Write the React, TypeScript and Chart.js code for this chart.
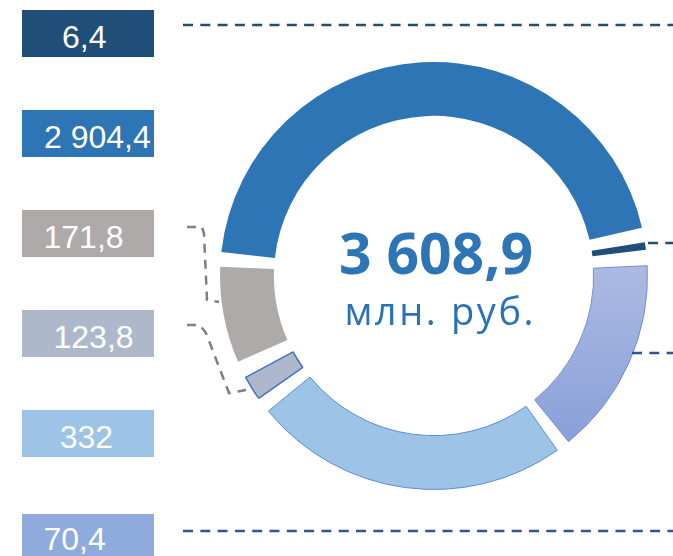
import React, { useEffect, useRef } from "react";
import { Chart, registerables } from "chart.js";

Chart.register(...registerables);

// Value labels shown in the boxes (top to bottom)
const valueLabels = ["6,4", "2 904,4", "171,8", "123,8", "332", "70,4"];
// Sweep of each ring slice in degrees, as drawn in the picture (same order as labels)
const sliceSweepDeg = [2, 160.6, 26.1, 6.6, 86, 53.6];
// Order of the slices around the ring, clockwise from the start angle
const ringOrder = [1, 0, 5, 4, 3, 2];
// Empty gaps (degrees) that follow each slice in ring order
const gapSweepDeg = [4, 4.3, 3.8, 4.3, 4.7, 4];
const startAngleDeg = 276.4;
const totalText = "3 608,9";
const unitText = "млн. руб.";

// styles
const sliceColors = ["#1F4E79", "#2E75B6", "#AEAAAA", "#ADB9CA", "#9DC3E6", "GRAD"];
const sliceBorders = ["#1F4E79", "#2E75B6", "#AEAAAA", "#4472C4", "#5B8ED5", "#6F8FD6"];
const sliceBorderW = [0, 0, 0, 1.5, 1, 1];
const boxColors = ["#1F4E79", "#2E75B6", "#AEAAAA", "#ADB9CA", "#9DC3E6", "#8FAADC"];
const boxTops = [10, 110, 210, 310, 410, 514];
const textTops = [21, 121, 221, 321, 421, 523];
const textLefts = [62, 44, 43.5, 53.5, 59.7, 43.4];

export default function App() {
  const ref = useRef<HTMLCanvasElement>(null);

  useEffect(() => {
    const canvas = ref.current!;
    const g = canvas.getContext("2d")!;
    const grad = g.createLinearGradient(0, 262, 0, 445);
    grad.addColorStop(0, "#ADBBE3");
    grad.addColorStop(1, "#889FD8");

    const data: number[] = [];
    const bg: any[] = [];
    const bc: string[] = [];
    const bw: number[] = [];
    const labels: string[] = [];
    ringOrder.forEach((idx, k) => {
      data.push(sliceSweepDeg[idx]);
      bg.push(sliceColors[idx] === "GRAD" ? grad : sliceColors[idx]);
      bc.push(sliceBorders[idx]);
      bw.push(sliceBorderW[idx]);
      labels.push(valueLabels[idx]);
      data.push(gapSweepDeg[k]);
      bg.push("rgba(0,0,0,0)");
      bc.push("rgba(0,0,0,0)");
      bw.push(0);
      labels.push("");
    });

    const dashed = (c: CanvasRenderingContext2D, color: string, pts: number[][]) => {
      c.strokeStyle = color;
      c.beginPath();
      c.moveTo(pts[0][0], pts[0][1]);
      for (let i = 1; i < pts.length; i++) c.lineTo(pts[i][0], pts[i][1]);
      c.stroke();
    };

    const leaderPlugin = {
      id: "leaders",
      afterDraw(chart: any) {
        const c: CanvasRenderingContext2D = chart.ctx;
        c.save();
        c.lineWidth = 2.5;
        c.setLineDash([10, 7.3]);
        c.lineCap = "butt";
        dashed(c, "#1F4E79", [[183, 25], [673, 25]]);
        dashed(c, "#2F5597", [[183, 531], [673, 531]]);
        dashed(c, "#1F4E79", [[648, 243], [673, 243]]);
        dashed(c, "#2F5597", [[632, 353], [673, 353]]);
        c.setLineDash([9, 7]);
        dashed(c, "#7F7F7F", [[187, 227], [202, 227], [204, 234], [207, 300], [219, 302]]);
        dashed(c, "#7F7F7F", [[187, 325], [200, 325], [206, 333], [229, 393], [246, 390]]);
        c.restore();
      },
    };

    const chart = new Chart(canvas, {
      type: "doughnut",
      data: {
        labels,
        datasets: [
          {
            data,
            backgroundColor: bg,
            borderColor: bc,
            borderWidth: bw,
            hoverBorderWidth: bw,
            hoverBackgroundColor: bg,
            hoverBorderColor: bc,
          },
        ],
      },
      options: {
        responsive: false,
        animation: false,
        events: [],
        rotation: startAngleDeg,
        cutout: "74.8%",
        layout: { padding: { left: 219.25, top: 61.25, right: 24.75, bottom: 65.75 } },
        plugins: { legend: { display: false }, tooltip: { enabled: false } },
      } as any,
      plugins: [leaderPlugin],
    });
    return () => chart.destroy();
  }, []);

  return (
    <div
      style={{
        position: "absolute",
        left: 0,
        top: 0,
        width: 673,
        height: 556,
        overflow: "hidden",
        background: "#fff",
      }}
    >
      {valueLabels.map((t, i) => (
        <div
          key={"b" + i}
          style={{
            position: "absolute",
            left: 22,
            top: boxTops[i],
            width: 132,
            height: 47,
            background: boxColors[i],
          }}
        />
      ))}
      {valueLabels.map((t, i) => (
        <div
          key={"t" + i}
          style={{
            position: "absolute",
            left: textLefts[i],
            top: textTops[i],
            fontFamily: "'Liberation Sans', Arial, sans-serif",
            fontSize: 32,
            lineHeight: "32px",
            color: "#fff",
            whiteSpace: "nowrap",
          }}
        >
          {t}
        </div>
      ))}
      <canvas
        ref={ref}
        width={673}
        height={556}
        style={{ position: "absolute", left: 0, top: 0, width: 673, height: 556 }}
      />
      <div
        style={{
          position: "absolute",
          left: 436,
          top: 224,
          transform: "translateX(-50%)",
          fontFamily: "'Open Sans', sans-serif",
          fontWeight: 700,
          fontSize: 57,
          lineHeight: "57px",
          color: "#2E75B6",
          whiteSpace: "nowrap",
        }}
      >
        {totalText}
      </div>
      <div
        style={{
          position: "absolute",
          left: 440.3,
          top: 291,
          transform: "translateX(-50%)",
          fontFamily: "'Open Sans', sans-serif",
          fontWeight: 400,
          fontSize: 38,
          lineHeight: "38px",
          letterSpacing: "2.6px",
          color: "#2A72B8",
          whiteSpace: "nowrap",
        }}
      >
        {unitText}
      </div>
    </div>
  );
}
